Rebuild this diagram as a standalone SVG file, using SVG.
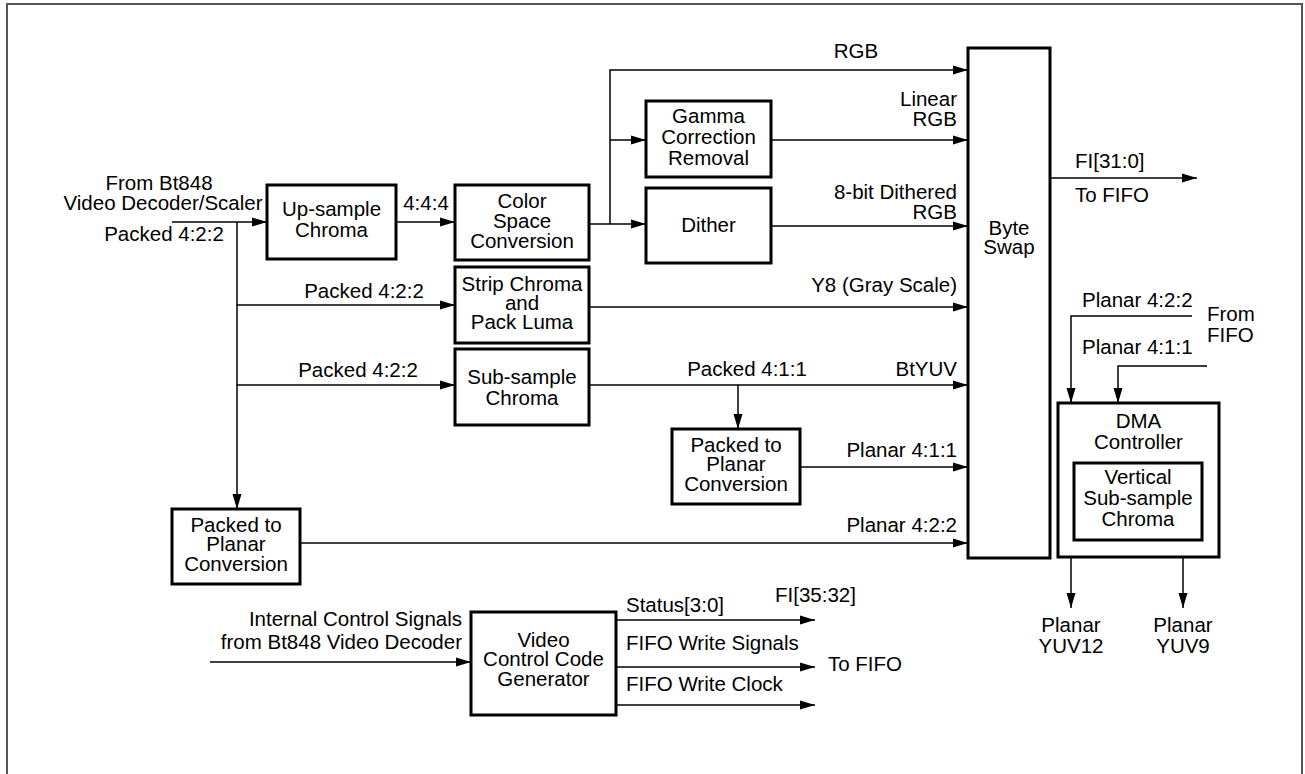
<svg xmlns="http://www.w3.org/2000/svg" width="1305" height="774" viewBox="0 0 1305 774">
<style>
.box{fill:#fff;stroke:#000;stroke-width:3}
.ln{fill:none;stroke:#000;stroke-width:1.5}
.ar{marker-end:url(#ah)}
text{font-family:"Liberation Sans",Arial,sans-serif;font-size:20.5px;fill:#000}
.c{text-anchor:middle}
.e{text-anchor:end}
</style>
<defs>
<marker id="ah" markerWidth="15" markerHeight="10" refX="15" refY="5" orient="auto" markerUnits="userSpaceOnUse">
<path d="M0,0.5 L15,5 L0,9.5 z" fill="#000"/>
</marker>
</defs>
<rect x="0" y="0" width="1305" height="774" fill="#fff"/>
<path d="M7,790 V4 H1302 V790" fill="none" stroke="#555" stroke-width="2"/>

<g id="connectors">
<path class="ln ar" d="M172,222 H267"/>
<path class="ln ar" d="M237,222 V509"/>
<path class="ln ar" d="M237,305 H455"/>
<path class="ln ar" d="M237,385 H455"/>
<path class="ln ar" d="M396,222 H455"/>
<path class="ln ar" d="M589,224 H646"/>
<path class="ln ar" d="M610,224 V70 H968"/>
<path class="ln ar" d="M610,140 H646"/>
<path class="ln ar" d="M771,140 H968"/>
<path class="ln ar" d="M771,226 H968"/>
<path class="ln ar" d="M589,307 H968"/>
<path class="ln ar" d="M589,385 H968"/>
<path class="ln ar" d="M738,385 V429"/>
<path class="ln ar" d="M800,467 H968"/>
<path class="ln ar" d="M300,543 H968"/>
<path class="ln ar" d="M1050,178 H1197"/>
<path class="ln ar" d="M1192,316 H1071 V403"/>
<path class="ln ar" d="M1207,366 H1118 V403"/>
<path class="ln ar" d="M1071,557 V608"/>
<path class="ln ar" d="M1183,540 V608"/>
<path class="ln ar" d="M210,662 H471"/>
<path class="ln ar" d="M616,620 H815"/>
<path class="ln ar" d="M616,667 H815"/>
<path class="ln ar" d="M616,705 H815"/>
</g>

<g id="labels">
<text x="159" y="190" class="c">From Bt848</text>
<text x="163" y="210" class="c">Video Decoder/Scaler</text>
<text x="164" y="241" class="c">Packed 4:2:2</text>
<text x="426" y="210" class="c">4:4:4</text>
<text x="364" y="298" class="c">Packed 4:2:2</text>
<text x="358" y="377" class="c">Packed 4:2:2</text>
<text x="856" y="58" class="c">RGB</text>
<text x="957" y="106" class="e">Linear</text>
<text x="957" y="126" class="e">RGB</text>
<text x="957" y="199" class="e">8-bit Dithered</text>
<text x="957" y="219" class="e">RGB</text>
<text x="957" y="292" class="e">Y8 (Gray Scale)</text>
<text x="957" y="376" class="e">BtYUV</text>
<text x="747" y="376" class="c">Packed 4:1:1</text>
<text x="957" y="457" class="e">Planar 4:1:1</text>
<text x="957" y="532" class="e">Planar 4:2:2</text>
<text x="1075" y="168">FI[31:0]</text>
<text x="1075" y="202">To FIFO</text>
<text x="1082" y="307">Planar 4:2:2</text>
<text x="1207" y="321">From</text>
<text x="1207" y="342">FIFO</text>
<text x="1082" y="354">Planar 4:1:1</text>
<text x="1071" y="632" class="c">Planar</text>
<text x="1071" y="653" class="c">YUV12</text>
<text x="1183" y="632" class="c">Planar</text>
<text x="1183" y="653" class="c">YUV9</text>
<text x="462" y="626" class="e">Internal Control Signals</text>
<text x="462" y="649" class="e">from Bt848 Video Decoder</text>
<text x="626" y="612">Status[3:0]</text>
<text x="775" y="602">FI[35:32]</text>
<text x="626" y="650">FIFO Write Signals</text>
<text x="626" y="691">FIFO Write Clock</text>
<text x="828" y="671">To FIFO</text>
</g>

<g id="upsample">
<rect class="box" x="267" y="185" width="129" height="74"/>
<text x="331.5" y="216" class="c">Up-sample</text>
<text x="331.5" y="237" class="c">Chroma</text>
</g>
<g id="csc">
<rect class="box" x="455" y="185" width="134" height="75"/>
<text x="522" y="208" class="c">Color</text>
<text x="522" y="228" class="c">Space</text>
<text x="522" y="248" class="c">Conversion</text>
</g>
<g id="gamma">
<rect class="box" x="646" y="101" width="125" height="76"/>
<text x="708.5" y="123" class="c">Gamma</text>
<text x="708.5" y="144" class="c">Correction</text>
<text x="708.5" y="165" class="c">Removal</text>
</g>
<g id="dither">
<rect class="box" x="646" y="188" width="125" height="75"/>
<text x="708.5" y="232" class="c">Dither</text>
</g>
<g id="strip">
<rect class="box" x="455" y="267" width="134" height="76"/>
<text x="522" y="291" class="c">Strip Chroma</text>
<text x="522" y="310" class="c">and</text>
<text x="522" y="329" class="c">Pack Luma</text>
</g>
<g id="subsample">
<rect class="box" x="455" y="349" width="134" height="76"/>
<text x="522" y="384" class="c">Sub-sample</text>
<text x="522" y="405" class="c">Chroma</text>
</g>
<g id="p2p-mid">
<rect class="box" x="672" y="429" width="128" height="75"/>
<text x="736" y="452" class="c">Packed to</text>
<text x="736" y="471" class="c">Planar</text>
<text x="736" y="491" class="c">Conversion</text>
</g>
<g id="p2p-left">
<rect class="box" x="172" y="509" width="128" height="75"/>
<text x="236" y="532" class="c">Packed to</text>
<text x="236" y="551" class="c">Planar</text>
<text x="236" y="571" class="c">Conversion</text>
</g>
<g id="byteswap">
<rect class="box" x="968" y="48" width="82" height="510"/>
<text x="1009" y="235" class="c">Byte</text>
<text x="1009" y="254" class="c">Swap</text>
</g>
<g id="dma">
<rect class="box" x="1058" y="403" width="161" height="154"/>
<text x="1138.5" y="428" class="c">DMA</text>
<text x="1138.5" y="449" class="c">Controller</text>
</g>
<g id="vsub">
<rect class="box" x="1074" y="463" width="128" height="77"/>
<text x="1138" y="484" class="c">Vertical</text>
<text x="1138" y="505" class="c">Sub-sample</text>
<text x="1138" y="526" class="c">Chroma</text>
</g>
<g id="vccg">
<rect class="box" x="471" y="612" width="145" height="103"/>
<text x="543.5" y="647" class="c">Video</text>
<text x="543.5" y="666" class="c">Control Code</text>
<text x="543.5" y="686" class="c">Generator</text>
</g>
</svg>
